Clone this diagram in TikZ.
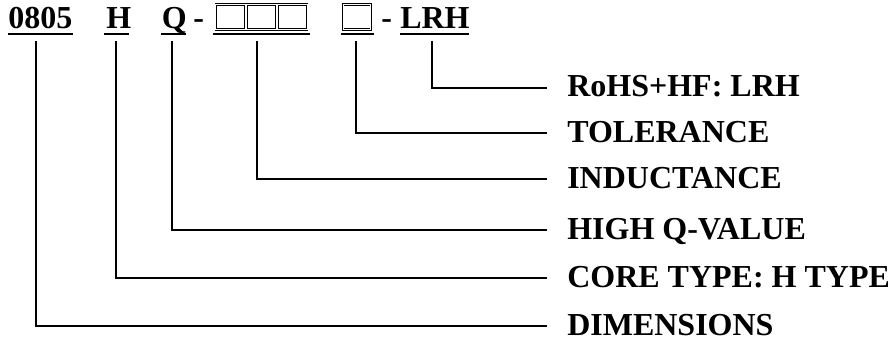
\documentclass[tikz,border=0pt]{standalone}
\usepackage{fontspec}
\setmainfont{Liberation Serif}
\begin{document}
\begin{tikzpicture}[x=0.75pt,y=-0.75pt,
  txt/.style={anchor=base west,inner sep=0pt,font=\fontsize{24pt}{28pt}\selectfont\bfseries},
  conn/.style={line width=1.4pt},
  uline/.style={line width=1.9pt},
  codebox/.style={draw,line width=0.55pt,double,double distance=0.7pt}]
\useasboundingbox (0,0) rectangle (888,345);
% top code
\node[txt] (c0805) at (8,29) {0805};
\node[txt] (cH) at (106,29) {H};
\node[txt] (cQ) at (161.5,29) {Q};
\node[txt] (d1) at (193,29) {-};
\node[codebox,minimum width=0pt] (b1) at (230.5,17) [minimum width=29.5*0.75pt,minimum height=25*0.75pt,inner sep=0pt] {};
\node[codebox] (b2) at (261.5,17) [minimum width=29.5*0.75pt,minimum height=25*0.75pt,inner sep=0pt] {};
\node[codebox] (b3) at (292.5,17) [minimum width=29.5*0.75pt,minimum height=25*0.75pt,inner sep=0pt] {};
\node[codebox] (b4) at (357,17) [minimum width=27.5*0.75pt,minimum height=25*0.75pt,inner sep=0pt] {};
\node[txt] (d2) at (381,29) {-};
\node[txt] (cLRH) at (400,29) {LRH};
% underlines
\draw[uline] (8,33.8) -- (72.5,33.8);
\draw[uline] (104,33.8) -- (129,33.8);
\draw[uline] (161,33.8) -- (186,33.8);
\draw[uline] (213,33.8) -- (310,33.8);
\draw[uline] (341,33.8) -- (374,33.8);
\draw[uline] (400,33.8) -- (469,33.8);
% connector start points
\coordinate (s1) at (36,41);
\coordinate (s2) at (116,41);
\coordinate (s3) at (172,41);
\coordinate (s4) at (257,41);
\coordinate (s5) at (356,41);
\coordinate (s6) at (432,41);
% connector end points
\coordinate (e6) at (547,88);
\coordinate (e5) at (547,133.3);
\coordinate (e4) at (547,179.3);
\coordinate (e3) at (547,230);
\coordinate (e2) at (547,278);
\coordinate (e1) at (547,326);
% labels
\node[txt] (l6) at (567,97) {RoHS+HF: LRH};
\node[txt] (l5) at (567,142.3) {TOLERANCE};
\node[txt] (l4) at (567,188.3) {INDUCTANCE};
\node[txt] (l3) at (567,239) {HIGH Q-VALUE};
\node[txt] (l2) at (567,287) {CORE TYPE: H TYPE};
\node[txt] (l1) at (567,335) {DIMENSIONS};
% connectors
\draw[conn] (s1) |- (e1);
\draw[conn] (s2) |- (e2);
\draw[conn] (s3) |- (e3);
\draw[conn] (s4) |- (e4);
\draw[conn] (s5) |- (e5);
\draw[conn] (s6) |- (e6);
\end{tikzpicture}
\end{document}
